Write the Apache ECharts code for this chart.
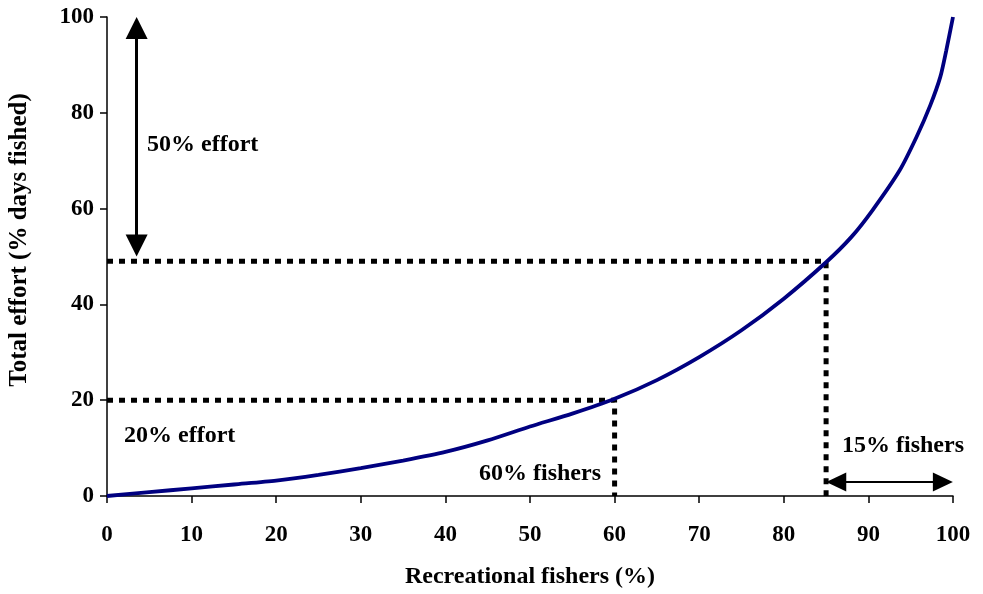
<!DOCTYPE html>
<html>
<head>
<meta charset="utf-8">
<script src="https://cdn.jsdelivr.net/npm/echarts@6/dist/echarts.min.js"></script>
<style>html,body{margin:0;padding:0;background:#fff}#c{width:983px;height:594px}</style>
</head>
<body>
<div id="c"></div>
<script>
// Data
const fishersPct = [0, 5, 10, 15, 20, 25, 30, 35, 40, 45, 50, 55, 60, 65, 70, 75, 80, 85, 88, 90.5, 93.7, 95.7, 97.3, 98.5, 99.2, 100];
const effortPct  = [0, 0.8, 1.6, 2.4, 3.2, 4.4, 5.8, 7.4, 9.2, 11.6, 14.5, 17.2, 20.3, 24.2, 29, 34.6, 41.2, 48.8, 54.1, 59.7, 68, 75, 81.5, 87.5, 93, 100];
const guide20 = [[0, 20], [60, 20], [60, 0]];
const guide50 = [[0, 49], [85, 49], [85, 0]];
const arrowEffort = [[3.5, 97.7], [3.5, 52.3]];
const arrowFishers = [[86.2, 2.9], [98.8, 2.9]];
const xTicks = [0, 10, 20, 30, 40, 50, 60, 70, 80, 90, 100];
const yTicks = [0, 20, 40, 60, 80, 100];

const FONT = '"Times New Roman", "Liberation Serif", serif';
const chart = echarts.init(document.getElementById('c'), null, {renderer: 'canvas'});
const curve = fishersPct.map((x, i) => [x, effortPct[i]]);

const axisCommon = {
  type: 'value',
  axisLine: {show: true, lineStyle: {color: '#000', width: 1.5}},
  axisTick: {show: true, inside: false, length: 7, lineStyle: {color: '#000', width: 1.5}},
  splitLine: {show: false},
  axisLabel: {color: '#000', fontFamily: FONT, fontWeight: 'bold', fontSize: 23}
};

const dotted = {color: '#000', width: 5, type: [6, 6], cap: 'butt'};

chart.setOption({
  animation: false,
  backgroundColor: '#fff',
  grid: {left: 107, right: 30, top: 17, bottom: 98, containLabel: false},
  xAxis: Object.assign({}, axisCommon, {
    min: 0, max: 100, interval: 10,
    axisLabel: Object.assign({}, axisCommon.axisLabel, {margin: 28, formatter: v => xTicks.includes(v) ? String(v) : ''}),
    name: 'Recreational fishers (%)', nameLocation: 'middle', nameGap: 69,
    nameTextStyle: {color: '#000', fontFamily: FONT, fontWeight: 'bold', fontSize: 24}
  }),
  yAxis: Object.assign({}, axisCommon, {
    min: 0, max: 100, interval: 20,
    axisLabel: Object.assign({}, axisCommon.axisLabel, {margin: 13, formatter: v => yTicks.includes(v) ? String(v) : ''})
  }),
  series: [
    {type: 'line', data: guide20, symbol: 'none', lineStyle: dotted, z: 1},
    {type: 'line', data: guide50, symbol: 'none', lineStyle: dotted, z: 1},
    {type: 'line', data: curve, symbol: 'none', smooth: 0.25, lineStyle: {color: '#000080', width: 3.8}, z: 2},
    {type: 'line', data: [], symbol: 'none',
      markLine: {
        silent: true, animation: false,
        symbol: ['triangle', 'triangle'],
        label: {show: false},
        data: [
          [{coord: arrowEffort[0], symbolSize: [22, 22], lineStyle: {color: '#000', width: 3, type: 'solid'}},
           {coord: arrowEffort[1], symbolSize: [22, 22]}],
          [{coord: arrowFishers[0], symbolSize: [19, 20], lineStyle: {color: '#000', width: 2, type: 'solid'}},
           {coord: arrowFishers[1], symbolSize: [19, 20]}]
        ]
      }
    }
  ],
  graphic: [
    {type: 'text', left: 147, top: 133, style: {text: '50% effort', font: 'bold 24px ' + FONT, fill: '#000'}},
    {type: 'text', left: 124, top: 424, style: {text: '20% effort', font: 'bold 24px ' + FONT, fill: '#000'}},
    {type: 'text', right: 983 - 601, top: 462, style: {text: '60% fishers', font: 'bold 24px ' + FONT, fill: '#000'}},
    {type: 'text', left: 842, top: 434, style: {text: '15% fishers', font: 'bold 24px ' + FONT, fill: '#000'}},
    {type: 'text', x: 20, y: 240, rotation: Math.PI / 2,
      style: {text: 'Total effort (% days fished)', font: 'bold 25px ' + FONT, fill: '#000', align: 'center', verticalAlign: 'middle'}}
  ]
});
</script>
</body>
</html>
